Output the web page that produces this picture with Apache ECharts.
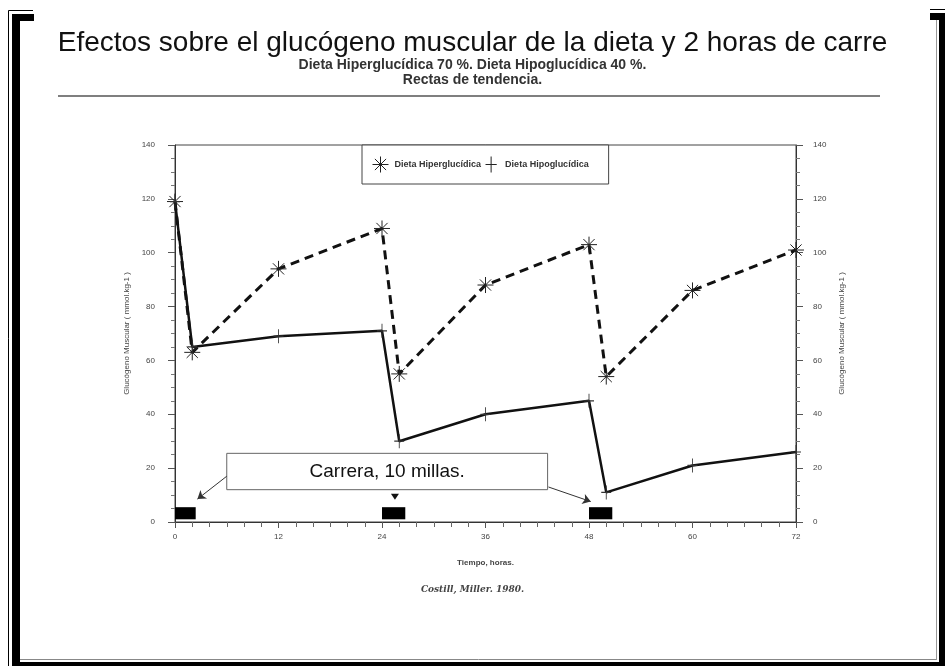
<!DOCTYPE html>
<html>
<head>
<meta charset="utf-8">
<title>Glucógeno muscular</title>
<script src="https://cdn.jsdelivr.net/npm/echarts@6/dist/echarts.min.js"></script>
<style>
  html, body { margin: 0; padding: 0; background: #fff; }
  #chart { width: 945px; height: 666px; }
</style>
</head>
<body>
<div id="chart"></div>
<script>
// horas y glucógeno (mmol/kg)
const hours = [0, 2, 12, 24, 26, 36, 48, 50, 60, 72];
const hiper = [119, 63, 94, 109, 55, 88, 103, 54, 86, 101];
const hipo = [119, 65, 69, 71, 30, 40, 45, 11, 21, 26];

// carreras de 10 millas (inicio / fin en horas)
const runStart = [0, 24, 48];
const runEnd = [2.4, 26.7, 50.7];

const xTicks = [0, 12, 24, 36, 48, 60, 72];
const yTicks = [0, 20, 40, 60, 80, 100, 120, 140];

const ASTERISK = 'path://M10 0L10 20M0 10L20 10M3 3L17 17M17 3L3 17';
const PLUS = 'path://M10 0L10 20M3 10L17 10';
const NARROW = '"Liberation Sans Narrow", "Arial Narrow", "Liberation Sans", sans-serif';
const SANS = '"Liberation Sans", Arial, sans-serif';

const pairs = (xs, ys) => xs.map((x, i) => [x, ys[i]]);

const yAxisBase = {
    type: 'value',
    min: yTicks[0],
    max: yTicks[yTicks.length - 1],
    interval: 20,
    name: 'Glucógeno Muscular ( mmol.kg-1 )',
    nameLocation: 'middle',
    nameRotate: 90,
    nameTextStyle: { fontSize: 8, color: '#444', fontFamily: SANS },
    axisLine: { show: true, lineStyle: { color: '#333', width: 1 } },
    axisTick: { show: true, length: 7, lineStyle: { color: '#555' } },
    minorTick: { show: true, splitNumber: 4, length: 4, lineStyle: { color: '#777' } },
    splitLine: { show: false },
    axisLabel: { fontSize: 8, color: '#444', fontFamily: SANS },
};

const chart = echarts.init(document.getElementById('chart'));

chart.setOption({
    animation: false,
    backgroundColor: '#fff',
    title: {
        text: 'Efectos sobre el glucógeno muscular de la dieta y 2 horas de carre',
        subtext: 'Dieta Hiperglucídica 70 %. Dieta Hipoglucídica 40 %.\nRectas de tendencia.',
        left: 'center',
        top: 24,
        itemGap: 1,
        textStyle: { fontSize: 28, fontWeight: 'normal', color: '#111', fontFamily: NARROW },
        subtextStyle: { fontSize: 14, fontWeight: 'bold', lineHeight: 15, color: '#333', fontFamily: NARROW },
    },
    legend: {
        left: 362,
        top: 145,
        orient: 'horizontal',
        padding: [11, 20, 11, 10],
        itemGap: 4,
        itemWidth: 18,
        itemHeight: 16,
        borderColor: '#444',
        borderWidth: 1,
        backgroundColor: '#fff',
        selectedMode: false,
        itemStyle: { color: 'rgba(0,0,0,0)', borderColor: '#222', borderWidth: 1 },
        textStyle: { fontSize: 9, fontWeight: 'bold', color: '#333', fontFamily: SANS, padding: [8, 0, 0, 0] },
        data: [
            { name: 'Dieta Hiperglucídica', icon: ASTERISK },
            { name: 'Dieta Hipoglucídica', icon: PLUS },
        ],
    },
    grid: {
        left: 175,
        right: 149,
        top: 145,
        bottom: 144,
        show: true,
        borderColor: '#444',
        borderWidth: 1,
        backgroundColor: '#fff',
    },
    xAxis: {
        type: 'value',
        min: xTicks[0],
        max: xTicks[xTicks.length - 1],
        interval: 12,
        name: 'Tiempo, horas.',
        nameLocation: 'middle',
        nameGap: 37,
        nameTextStyle: { fontSize: 8, fontWeight: 'bold', color: '#444', fontFamily: SANS },
        axisLine: { show: true, onZero: false, lineStyle: { color: '#333', width: 1 } },
        axisTick: { show: true, length: 6, lineStyle: { color: '#555' } },
        minorTick: { show: true, splitNumber: 6, length: 5, lineStyle: { color: '#666' } },
        splitLine: { show: false },
        axisLabel: { fontSize: 8, color: '#444', margin: 11, fontFamily: SANS },
    },
    yAxis: [
        Object.assign({}, yAxisBase, {
            position: 'left',
            nameGap: 33,
            axisLabel: Object.assign({}, yAxisBase.axisLabel, { margin: 20 }),
        }),
        Object.assign({}, yAxisBase, {
            position: 'right',
            nameGap: 42,
            axisLabel: Object.assign({}, yAxisBase.axisLabel, { margin: 17 }),
        }),
    ],
    series: [
        {
            name: 'Dieta Hiperglucídica',
            type: 'line',
            data: pairs(hours, hiper),
            symbol: ASTERISK,
            symbolSize: 16,
            showSymbol: true,
            z: 3,
            lineStyle: { color: '#111', width: 3, type: [9, 6] },
            itemStyle: { color: 'rgba(0,0,0,0)', borderColor: '#222', borderWidth: 1 },
        },
        {
            name: 'Dieta Hipoglucídica',
            type: 'line',
            data: pairs(hours, hipo),
            symbol: PLUS,
            symbolSize: [10, 14],
            showSymbol: true,
            z: 4,
            lineStyle: { color: '#111', width: 2.5 },
            itemStyle: { color: 'rgba(0,0,0,0)', borderColor: '#333', borderWidth: 1 },
            markArea: {
                silent: true,
                data: runStart.map((s, i) => [
                    { coord: [s, 1], itemStyle: { color: '#000' } },
                    { coord: [runEnd[i], 5.5] },
                ]).concat([[
                    {
                        coord: [6, 25.5],
                        itemStyle: { color: '#fff', borderColor: '#666', borderWidth: 1 },
                        label: {
                            show: true,
                            position: 'inside',
                            formatter: 'Carrera, 10 millas.',
                            fontSize: 19,
                            color: '#111',
                            fontFamily: NARROW,
                        },
                    },
                    { coord: [43.2, 12] },
                ]]),
            },
            markLine: {
                silent: true,
                symbol: ['none', 'arrow'],
                symbolSize: 8,
                label: { show: false },
                lineStyle: { color: '#333', width: 1, type: 'solid' },
                data: [
                    [{ coord: [6, 17] }, { coord: [2.6, 8.5] }],
                    [{ coord: [43.3, 13] }, { coord: [48.2, 7.6] }],
                ],
            },
            markPoint: {
                silent: true,
                symbol: 'path://M0 0L10 0L5 8Z',
                symbolSize: [8, 6],
                itemStyle: { color: '#111' },
                label: { show: false },
                data: [{ coord: [25.5, 9.4] }],
            },
        },
    ],
    graphic: [
        // línea bajo los subtítulos
        { type: 'line', shape: { x1: 58, y1: 96, x2: 880, y2: 96 }, style: { stroke: '#555', lineWidth: 1.5 } },
        // cita
        {
            type: 'text', left: 'center', top: 585,
            style: { text: 'Costill, Miller. 1980.', font: 'italic bold 9px "DejaVu Serif", serif', fill: '#444' },
        },
        // marco de la página escaneada
        { type: 'rect', shape: { x: 12, y: 14, width: 8, height: 652 }, style: { fill: '#000' } },
        { type: 'rect', shape: { x: 12, y: 14, width: 22, height: 7 }, style: { fill: '#000' } },
        { type: 'line', shape: { x1: 8.5, y1: 10.5, x2: 8.5, y2: 666 }, style: { stroke: '#000', lineWidth: 1 } },
        { type: 'line', shape: { x1: 8.5, y1: 10.5, x2: 33, y2: 10.5 }, style: { stroke: '#000', lineWidth: 1 } },
        { type: 'rect', shape: { x: 930, y: 13, width: 15, height: 7 }, style: { fill: '#000' } },
        { type: 'line', shape: { x1: 930, y1: 9.5, x2: 945, y2: 9.5 }, style: { stroke: '#000', lineWidth: 1 } },
        { type: 'rect', shape: { x: 939, y: 13, width: 6, height: 653 }, style: { fill: '#000' } },
        { type: 'rect', shape: { x: 12, y: 662, width: 933, height: 4 }, style: { fill: '#000' } },
        { type: 'line', shape: { x1: 20, y1: 659.5, x2: 937, y2: 659.5 }, style: { stroke: '#888', lineWidth: 1 } },
        { type: 'line', shape: { x1: 936.5, y1: 20, x2: 936.5, y2: 660 }, style: { stroke: '#999', lineWidth: 1 } },
    ],
});
</script>
</body>
</html>
